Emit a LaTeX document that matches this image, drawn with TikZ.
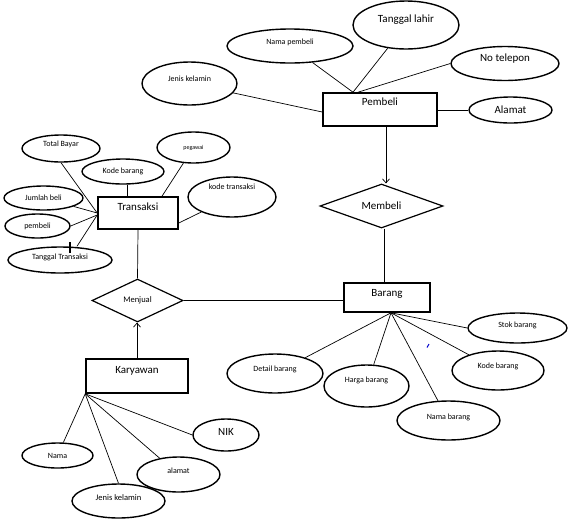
\documentclass[tikz,border=0pt]{standalone}
\usepackage{fontspec}
\setmainfont{Carlito}
\usetikzlibrary{shapes.geometric,arrows.meta}
\begin{document}
\begin{tikzpicture}[x=1pt,y=-1pt,
  ent/.style={draw, line width=1.6pt, rectangle, inner sep=0pt, font=\fontsize{11}{13}\selectfont},
  attr/.style={draw, ellipse, line width=1.4pt, inner sep=0pt, font=\fontsize{8}{10}\selectfont},
  big/.style={font=\fontsize{11}{13}\selectfont},
  rel/.style={draw, diamond, line width=1.2pt, inner sep=0pt},
  link/.style={line width=0.7pt},
  arr/.style={line width=0.7pt, -{Straight Barb[length=4pt,width=7pt]}}
]
\useasboundingbox (0,0) rectangle (570,523);

% entities
\node[ent, minimum width=114pt, minimum height=33pt, text depth=15pt] (pembeli) at (380,109.5) {Pembeli};
\node[ent, minimum width=86pt, minimum height=29pt, text depth=9pt] (barang) at (387,297.5) {Barang};
\node[ent, minimum width=80pt, minimum height=32pt, text depth=12pt] (transaksi) at (138,213) {Transaksi};
\node[ent, minimum width=102pt, minimum height=34pt, text depth=12pt] (karyawan) at (137,376) {Karyawan};

% relations
\node[rel, font=\fontsize{11}{13}\selectfont, minimum width=123pt, minimum height=44pt, aspect=2.8] (membeli) at (381.5,206) {Membeli};
\node[rel, font=\fontsize{8.5}{10}\selectfont, minimum width=91pt, minimum height=43pt, aspect=2.1] (menjual) at (137.5,300.5) {Menjual};

% Pembeli attributes
\node[attr, big, minimum width=106pt, minimum height=48pt, text depth=12pt] (tgl) at (406,25) {Tanggal lahir};
\node[attr, minimum width=126pt, minimum height=34pt, text depth=8pt] (nmp) at (290,46) {Nama pembeli};
\node[attr, big, minimum width=108pt, minimum height=34pt, text depth=11pt] (telp) at (505,63.5) {No telepon};
\node[attr, big, minimum width=83pt, minimum height=26pt] (alamatP) at (510.5,110) {Alamat};
\node[attr, minimum width=95pt, minimum height=43pt, text depth=10pt] (jkP) at (189.5,83.5) {Jenis kelamin};

% Transaksi attributes
\node[attr, minimum width=78pt, minimum height=27pt, text depth=9pt] (total) at (61,148.5) {Total Bayar};
\node[attr, minimum width=82pt, minimum height=25pt] (kodeT) at (123,171.5) {Kode barang};
\node[attr, font=\fontsize{6}{7}\selectfont, minimum width=73pt, minimum height=31pt] (pegawai) at (193.5,147.5) {pegawai};
\node[attr, minimum width=88pt, minimum height=40pt, text depth=20pt] (kodetr) at (232,197) {kode transaksi};
\node[attr, minimum width=79pt, minimum height=24pt] (jumlah) at (43.5,198) {Jumlah beli};
\node[attr, minimum width=65pt, minimum height=24pt] (pembeliT) at (37.5,226) {pembeli};
\node[attr, minimum width=104pt, minimum height=26pt, text depth=6pt] (tglT) at (60,260) {Tanggal Transaksi};

% Barang attributes
\node[attr, minimum width=99pt, minimum height=30pt, text depth=6pt] (stok) at (517.5,328) {Stok barang};
\node[attr, minimum width=92pt, minimum height=39pt, text depth=10pt] (kodeB) at (498,370.5) {Kode barang};
\node[attr, minimum width=103pt, minimum height=39pt, text depth=8pt] (nama) at (448.5,420.5) {Nama barang};
\node[attr, minimum width=85pt, minimum height=42pt, text depth=12pt] (harga) at (366.5,386) {Harga barang};
\node[attr, minimum width=96pt, minimum height=39pt, text depth=10pt] (detail) at (275,373.5) {Detail barang};

% Karyawan attributes
\node[attr, minimum width=71pt, minimum height=25pt] (namaK) at (57.5,455.5) {Nama};
\node[attr, font=\fontsize{8.5}{10}\selectfont, minimum width=93pt, minimum height=34pt, text depth=6pt] (jkK) at (118.5,501) {Jenis kelamin};
\node[attr, minimum width=83pt, minimum height=35pt, text depth=7pt] (alamatK) at (178.5,474.5) {alamat};
\node[attr, big, minimum width=66pt, minimum height=32pt, text depth=6pt] (nik) at (226,435) {NIK};

% Pembeli connectors
\coordinate (phub) at ([xshift=-27pt]pembeli.north);
\draw[link] (jkP) -- ([yshift=-2.5pt]pembeli.west);
\draw[link] (nmp) -- (phub);
\draw[link] (tgl) -- (phub);
\draw[link] (telp.west) -- ([xshift=-22pt]pembeli.north);
\draw[link] (alamatP.west) -- (alamatP.west -| pembeli.east);

% relationships
\draw[arr] ([xshift=6pt]pembeli.south) -- ([xshift=6pt]pembeli.south |- membeli.north);
\draw[link] ([xshift=-3pt]barang.north |- membeli.south) -- ([xshift=-3pt]barang.north);
\draw[link] (transaksi.south) -- (menjual.north);
\draw[arr] (karyawan.north) -- (karyawan.north |- menjual.south);
\draw[link] (menjual.east) -- (menjual.east -| barang.west);

% Barang connectors
\coordinate (bhub) at ([xshift=4pt]barang.south);
\draw[link] (bhub) -- (stok.west);
\draw[link] (bhub) -- (kodeB);
\draw[link] (bhub) -- (nama);
\draw[link] (bhub) -- (harga);
\draw[link] (bhub) -- (detail);

% Karyawan connectors
\draw[link] (karyawan.south west) -- (namaK);
\draw[link] (karyawan.south west) -- (jkK.north);
\draw[link] (karyawan.south west) -- (alamatK);
\draw[link] (karyawan.south west) -- (nik.west);

% Transaksi connectors
\draw[link] (total.south) -- (transaksi.west);
\draw[link] ([xshift=4pt]kodeT.south) -- ([xshift=4pt]kodeT.south |- transaksi.north);
\draw[link] (pegawai) -- ([xshift=24pt]transaksi.north);
\draw[link] (kodetr) -- ([yshift=-10pt]transaksi.east);
\draw[link] (jumlah) -- (transaksi.west);
\draw[link] (pembeliT.east) -- ([yshift=-2pt]transaksi.west);
\draw[link] ([xshift=17pt]tglT.north) -- ([yshift=-2pt]transaksi.west);

% stray marks
\draw[line width=1.5pt] (70,242) -- (70,253);
\draw[blue!80!black, line width=1pt] (429,344) -- (427,347.5);
\end{tikzpicture}
\end{document}
